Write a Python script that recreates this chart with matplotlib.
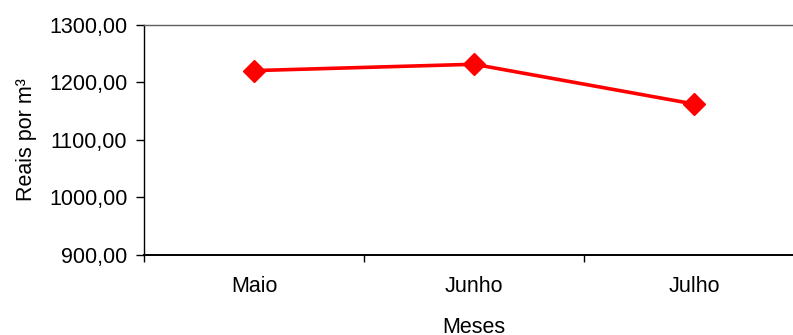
import matplotlib.pyplot as plt

plt.rcParams['font.family'] = ['Liberation Sans', 'DejaVu Sans']

# Preço médio por mês
meses = ['Maio', 'Junho', 'Julho']
precos = [1220.0, 1231.0, 1162.0]
y_ticks = [900, 1000, 1100, 1200, 1300]

fig = plt.figure(figsize=(7.93, 3.35), dpi=100)
ax = fig.add_axes([144 / 793, 80 / 335, 660 / 793, 230.5 / 335])

x = list(range(len(meses)))
ax.plot(x, precos, color='#ff0000', linewidth=2.6, marker='D',
        markersize=11.5, markerfacecolor='#ff0000', markeredgecolor='#ff0000',
        clip_on=False)

ax.set_xlim(-0.5, len(meses) - 0.5)
ax.set_ylim(900, 1300)

# rótulos no centro de cada categoria, marcas nas divisões
ax.set_xticks(x)
ax.set_xticklabels(meses, fontsize=15.5)
ax.tick_params(axis='x', which='major', length=0, pad=15)
ax.set_xticks([i - 0.5 for i in range(len(meses) + 1)], minor=True)
ax.tick_params(axis='x', which='minor', length=5, width=1, color='#000000')

ax.set_yticks(y_ticks)
ax.set_yticklabels([f'{v:.2f}'.replace('.', ',') for v in y_ticks], fontsize=15.5)
ax.tick_params(axis='y', length=6, width=1, pad=6)

ax.spines['right'].set_visible(False)
ax.spines['top'].set_color('#606060')
ax.spines['top'].set_linewidth(1.0)
ax.spines['left'].set_linewidth(1.0)
ax.spines['bottom'].set_linewidth(1.4)

ax.set_ylabel('Reais por m³', fontsize=15.5)
ax.yaxis.set_label_coords(-0.178, 0.5)
ax.yaxis.label.set_va('center')
ax.set_xlabel('Meses', fontsize=15.5)
ax.xaxis.set_label_coords(0.5, -0.268)

fig.savefig('out.png', dpi=100)
